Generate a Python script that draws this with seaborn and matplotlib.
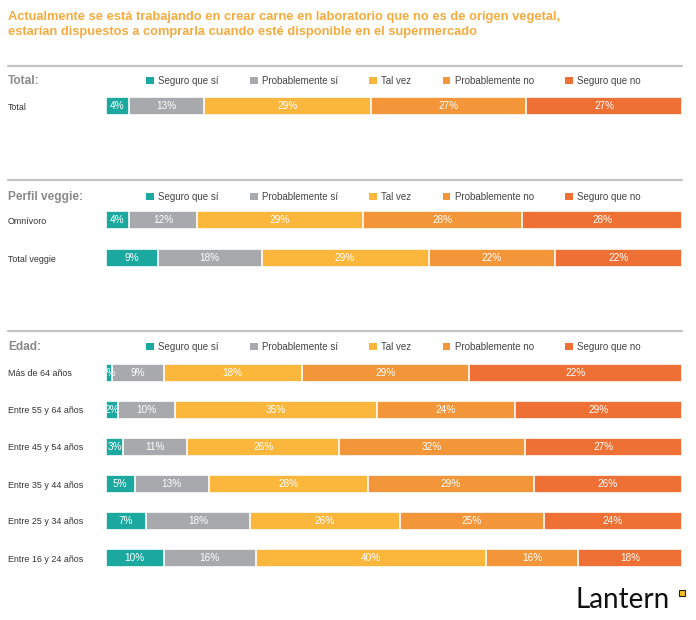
import numpy as np
import pandas as pd
import matplotlib
matplotlib.use("Agg")
import matplotlib.pyplot as plt
import seaborn as sns
from matplotlib import font_manager
from matplotlib.patches import Patch, Rectangle
from matplotlib.lines import Line2D
from matplotlib.transforms import blended_transform_factory

# datos
titulo = ("Actualmente se está trabajando en crear carne en laboratorio que no es de origen vegetal,\n"
          "estarían dispuestos a comprarla cuando esté disponible en el supermercado")
categorias = ["Seguro que sí", "Probablemente sí", "Tal vez", "Probablemente no", "Seguro que no"]
colores = ["#1ba99f", "#a8a9ac", "#fbb63c", "#f3963a", "#ef7034"]

total_filas = ["Total"]
total_valores = [[4, 13, 29, 27, 27]]

perfil_filas = ["Omnívoro", "Total veggie"]
perfil_valores = [[4, 12, 29, 28, 28],
                  [9, 18, 29, 22, 22]]

edad_filas = ["Más de 64 años", "Entre 55 y 64 años", "Entre 45 y 54 años",
              "Entre 35 y 44 años", "Entre 25 y 34 años", "Entre 16 y 24 años"]
# ancho de las barras y etiquetas impresas (no siempre coinciden)
edad_valores = [[1, 9, 24, 29, 37],
                [2, 10, 35, 24, 29],
                [3, 11, 26, 32, 27],
                [5, 13, 28, 29, 26],
                [7, 18, 26, 25, 24],
                [10, 16, 40, 16, 18]]
edad_etiquetas = [[1, 9, 18, 29, 22],
                  [2, 10, 35, 24, 29],
                  [3, 11, 26, 32, 27],
                  [5, 13, 28, 29, 26],
                  [7, 18, 26, 25, 24],
                  [10, 16, 40, 16, 18]]

# fuentes
sns.set_theme(style="white")
nombres = {f.name for f in font_manager.fontManager.ttflist}
fuente = "Liberation Sans Narrow" if "Liberation Sans Narrow" in nombres else "Liberation Sans"
plt.rcParams["font.family"] = [fuente, "DejaVu Sans"]

W, H = 696, 620
fig = plt.figure(figsize=(W / 100, H / 100), dpi=100)
fig.patch.set_facecolor("white")


def fy(y):
    return 1 - y / H


def panel(filas, valores, etiquetas, arriba, abajo, encabezado, y_enc, y_linea):
    ax = fig.add_axes([106 / W, fy(abajo), 576 / W, (abajo - arriba) / H])
    vals = np.array(valores, dtype=float)
    vals = vals / vals.sum(axis=1, keepdims=True) * 100
    acum = vals.cumsum(axis=1)
    df = pd.DataFrame(acum, columns=categorias)
    df["fila"] = filas
    # barras apiladas: de la suma total hacia la primera categoria
    for k in reversed(range(len(categorias))):
        sns.barplot(data=df, x=categorias[k], y="fila", color=colores[k], orient="h",
                    ax=ax, width=0.48, saturation=1, edgecolor="white", linewidth=1.2)
    for i in range(len(filas)):
        for k in range(len(categorias)):
            centro = acum[i, k] - vals[i, k] / 2
            ax.text(centro, i, f"{etiquetas[i][k]}%", ha="center", va="center",
                    color="white", fontsize=7.2)
    ax.set_xlim(0, 100)
    ax.set_ylim(len(filas) - 0.5, -0.5)
    ax.set_xlabel("")
    ax.set_ylabel("")
    ax.set_xticks([])
    ax.set_yticks([])
    sns.despine(ax=ax, left=True, bottom=True)
    ax.patch.set_alpha(0)

    tr = blended_transform_factory(fig.transFigure, ax.transData)
    for i, f in enumerate(filas):
        ax.text(8 / W, i, f, transform=tr, ha="left", va="center_baseline",
                fontsize=6.4, color="#333333")

    fig.add_artist(Line2D([8 / W, 682 / W], [fy(y_linea), fy(y_linea)], color="#c4c4c4", lw=1.6))
    fig.text(8 / W, fy(y_enc), encabezado, ha="left", va="center", fontsize=8.6,
             fontweight="bold", color="#8a8a8a")
    manejadores = [Patch(facecolor=c, edgecolor="none") for c in colores]
    ax.legend(manejadores, categorias, loc="center left", bbox_to_anchor=(146 / W, fy(y_enc)),
              bbox_transform=fig.transFigure, ncol=5, frameon=False, borderaxespad=0, borderpad=0,
              handlelength=0.8, handleheight=0.8, handletextpad=0.45, columnspacing=3.2,
              prop={"size": 7}, labelcolor="#444444")
    return ax


panel(total_filas, total_valores, total_valores, 87.25, 124.75, "Total:", 81, 66)
panel(perfil_filas, perfil_valores, perfil_valores, 201, 277, "Perfil veggie:", 197, 180)
panel(edad_filas, edad_valores, edad_etiquetas, 354.5, 576.5, "Edad:", 347, 331)

fig.text(8 / W, fy(11), titulo, ha="left", va="top", fontsize=9.3, fontweight="bold",
         color="#f6ab3e", linespacing=1.3)

# logo
fig.text(575 / W, fy(608), "Lantern", ha="left", va="baseline", fontsize=20,
         color="#111111", family=["Lato", "DejaVu Sans"])
fig.add_artist(Rectangle((679 / W, fy(596)), 6 / W, 6 / H, transform=fig.transFigure,
                         facecolor="#f7c21b", edgecolor="#222222", lw=0.8))

fig.savefig("out.png", dpi=100, facecolor="white")
